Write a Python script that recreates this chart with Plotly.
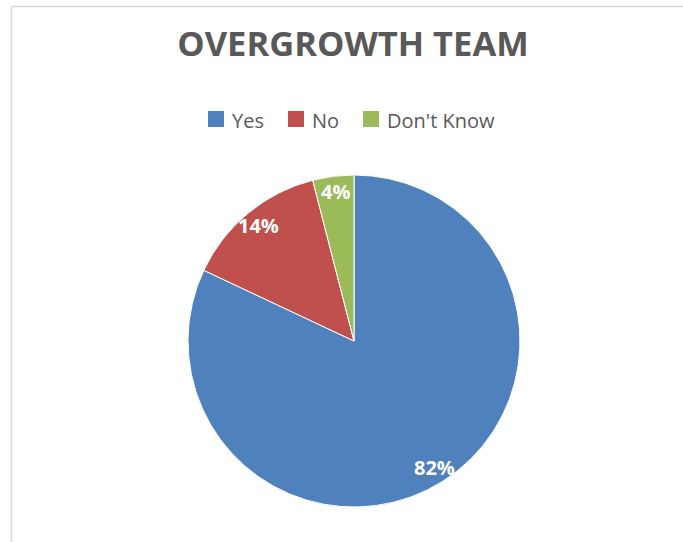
import math
import plotly.graph_objects as go

categories = ["Yes", "No", "Don't Know"]
values = [82, 14, 4]
colors = ["#4f81bd", "#c0504d", "#9bbb59"]
title_text = "OVERGROWTH TEAM"

W, H = 683, 542
cx, cy, R = 354, 341, 166  # pie centre and radius in pixels

fig = go.Figure(go.Pie(
    labels=categories,
    values=values,
    marker=dict(colors=colors, line=dict(color="white", width=1)),
    sort=False,
    direction="clockwise",
    rotation=0,
    textinfo="none",
    hoverinfo="label+percent",
    showlegend=False,
    domain=dict(x=[(cx - R) / W, (cx + R) / W], y=[(H - cy - R) / H, (H - cy + R) / H]),
))

# data labels at "inside end", computed from the slice angles
total = sum(values)
start = 0.0
annotations = []
for cat, v in zip(categories, values):
    frac = v / total
    mid = (start + frac / 2) * 2 * math.pi
    start += frac
    r = 0.905 * R
    px = cx + r * math.sin(mid)
    py = cy - r * math.cos(mid)
    annotations.append(dict(
        x=px / W, y=1 - py / H, xref="paper", yref="paper",
        text=f"{round(frac * 100)}%", showarrow=False,
        font=dict(family="Open Sans", size=20, color="white", weight="bold"),
        xanchor="center", yanchor="middle",
    ))

# legend (square swatches like the original)
legend_left = [208, 288, 363]   # pixel x of each swatch
legend_cy = 119                  # pixel y of the legend row
sw = 16
shapes = [dict(
    type="rect", xref="paper", yref="paper",
    x0=11.5 / W, x1=1.2, y0=-0.2, y1=1 - 6.5 / H,
    line=dict(color="#d9d9d9", width=1.5), fillcolor="rgba(0,0,0,0)",
    layer="below",
)]
for cat, col, lx in zip(categories, colors, legend_left):
    shapes.append(dict(
        type="rect", xref="paper", yref="paper",
        x0=lx / W, x1=(lx + sw) / W,
        y0=1 - (legend_cy + sw / 2) / H, y1=1 - (legend_cy - sw / 2) / H,
        line=dict(width=0), fillcolor=col,
    ))
    annotations.append(dict(
        x=(lx + sw + 6) / W, y=1 - (legend_cy + 1) / H, xref="paper", yref="paper",
        text=cat, showarrow=False, xanchor="left", yanchor="middle",
        font=dict(family="Open Sans", size=20, color="#595959"),
    ))

fig.update_layout(
    width=W, height=H,
    margin=dict(l=0, r=0, t=0, b=0),
    paper_bgcolor="white",
    plot_bgcolor="white",
    title=dict(
        text=f"<b>{title_text}</b>", x=353 / W, xanchor="center",
        y=1 - 44 / H, yanchor="middle",
        font=dict(family="Open Sans", size=34.5, color="#595959"),
    ),
    annotations=annotations,
    shapes=shapes,
)

fig.write_html(
    "out.html",
    config={"displayModeBar": False},
    post_script="document.body.style.margin='0';",
)
